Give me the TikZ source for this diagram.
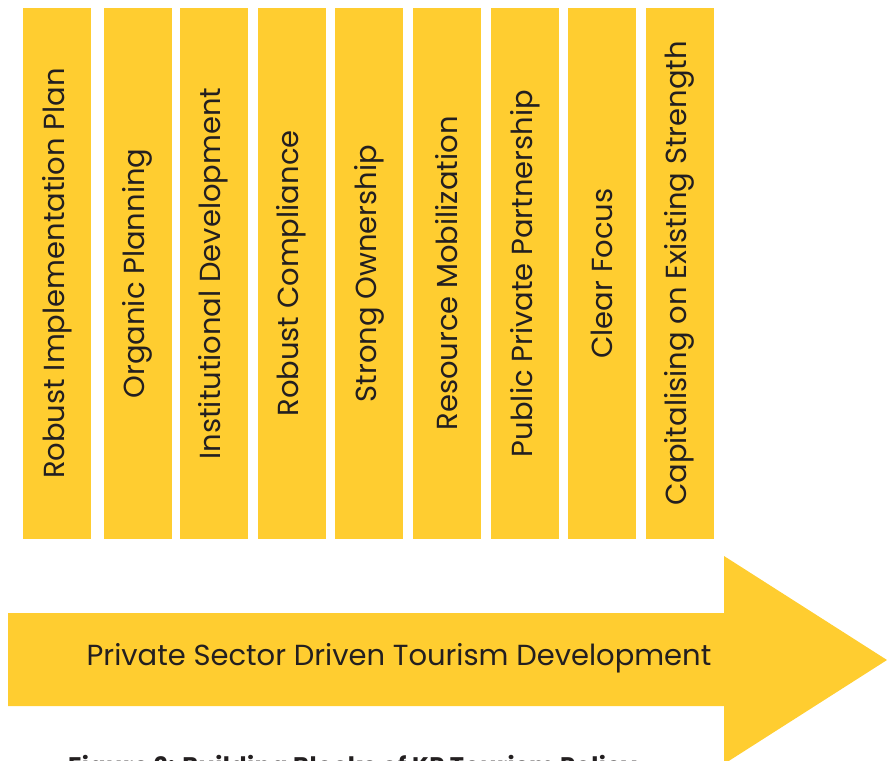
\documentclass[tikz,border=0pt]{standalone}
\usepackage{fontspec}
\setmainfont{Poppins}
\definecolor{kpyellow}{RGB}{255,205,48}
\definecolor{kpink}{RGB}{35,31,32}

\begin{document}
\begin{tikzpicture}[x=1pt,y=-1pt,
  bar/.style={fill=kpyellow,rotate=90,minimum width=531pt,minimum height=68pt,
    inner sep=0pt,text=kpink,font=\fontsize{29}{32}\selectfont},
  arrowtext/.style={text=kpink,font=\fontsize{29}{32}\selectfont},
  captiontext/.style={text=kpink,anchor=north west,inner sep=0pt,
    font=\bfseries\fontsize{24}{27}\selectfont\addfontfeatures{LetterSpace=2}}]
\useasboundingbox (0,0) rectangle (887,761);
\clip (0,0) rectangle (887,761);

\node[bar] (b1) at (57,273.5) {Robust Implementation Plan};
\node[bar] (b2) at (137.5,273.5) {Organic Planning};
\node[bar] (b3) at (213.5,273.5) {Institutional Development};
\node[bar] (b4) at (291.5,273.5) {Robust Compliance};
\node[bar] (b5) at (369,273.5) {Strong Ownership};
\node[bar] (b6) at (447,273.5) {Resource Mobilization};
\node[bar] (b7) at (525,273.5) {Public Private Partnership};
\node[bar] (b8) at (602,273.5) {Clear Focus};
\node[bar] (b9) at (679.5,273.5) {Capitalising on Existing Strength};

\fill[kpyellow] (8,613) -- (724,613) -- (724,556) -- (887,660)
  -- (724,764) -- (724,706) -- (8,706) -- cycle;
\node[arrowtext] (goal) at (399,658) {Private Sector Driven Tourism Development};

\node[captiontext] (caption) at (68,755) {Figure 2: Building Blocks of KP Tourism Policy};
\end{tikzpicture}
\end{document}
